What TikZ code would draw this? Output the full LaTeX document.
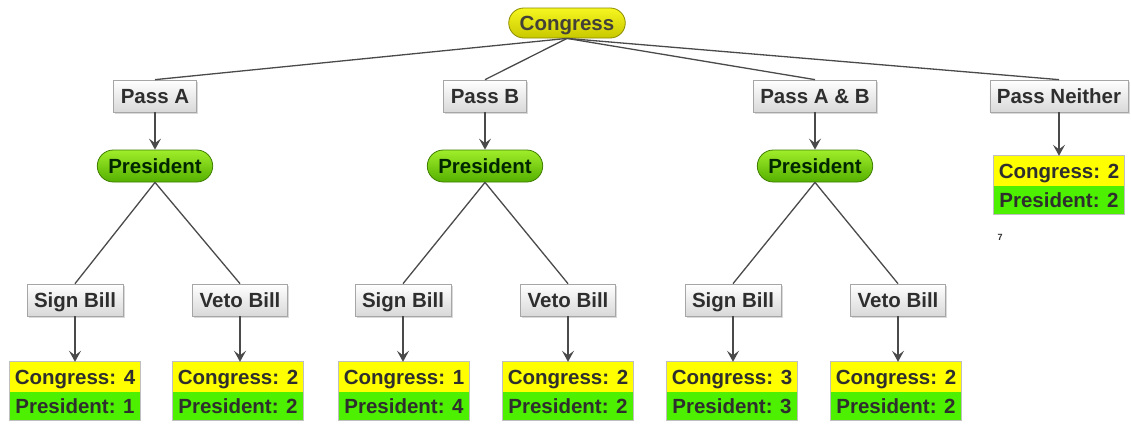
\documentclass[tikz,border=0pt]{standalone}
\usepackage{fontspec}
\setmainfont{Liberation Sans}
\usetikzlibrary{arrows.meta,shadows}
\definecolor{edgegray}{HTML}{4A4A4A}
\definecolor{txt}{HTML}{2E2E2E}
\definecolor{cyel}{HTML}{FFFF00}
\definecolor{cgrn}{HTML}{4CF000}
\definecolor{ctop}{HTML}{F6F620}
\definecolor{cbot}{HTML}{C8C800}
\definecolor{cline}{HTML}{8C8C00}
\definecolor{gtop}{HTML}{A0EE2A}
\definecolor{gbot}{HTML}{55B000}
\definecolor{gline}{HTML}{3F7F00}
\begin{document}
\begin{tikzpicture}[x=1pt,y=-1pt,
  lbl/.style={font=\fontsize{20.5}{22}\selectfont\bfseries, text=txt, text height=16pt, text depth=2pt},
  pill/.style={lbl, rounded corners=15pt, minimum height=30pt, inner xsep=11pt, inner ysep=0pt, line width=0.8pt},
  congressnode/.style={pill, top color=ctop, bottom color=cbot, draw=cline, text=black!85!yellow},
  presnode/.style={pill, minimum height=32pt, rounded corners=16pt, top color=gtop,
    bottom color=gbot, draw=gline, text=black!85!green},
  passbox/.style={lbl, draw=black!35, line width=0.7pt, top color=white, bottom color=black!15,
    minimum height=32pt, inner xsep=7pt, inner ysep=0pt,
    drop shadow={shadow xshift=1.5pt, shadow yshift=-1.5pt, fill=black!25, opacity=0.6}},
  cbox/.style={lbl, fill=cyel, minimum width=130pt, minimum height=30pt, inner sep=0pt},
  pbox/.style={lbl, fill=cgrn, minimum width=130pt, minimum height=28pt, inner sep=0pt},
  rframe/.style={draw=black!25, line width=0.8pt},
  link/.style={draw=edgegray, line width=1.3pt},
  arr/.style={link, -{Stealth[length=11pt, width=12pt, inset=4.5pt]}}
]
\useasboundingbox (0,0) rectangle (1131,423);

% root
\node[congressnode] (congress) at (567,23) {Congress};

% first-level choices
\node[passbox] (passA)  at (155,96)  {Pass A};
\node[passbox] (passB)  at (485,96)  {Pass B};
\node[passbox] (passAB) at (815,96)  {Pass A \& B};
\node[passbox] (passN)  at (1059,96) {Pass Neither};

% president decisions
\node[presnode] (pres1) at (155,166) {President};
\node[presnode] (pres2) at (485,166) {President};
\node[presnode] (pres3) at (815,166) {President};

% president actions
\node[passbox] (sign1) at (75,300)  {Sign Bill};
\node[passbox] (veto1) at (240,300) {Veto Bill};
\node[passbox] (sign2) at (403,300) {Sign Bill};
\node[passbox] (veto2) at (568,300) {Veto Bill};
\node[passbox] (sign3) at (733,300) {Sign Bill};
\node[passbox] (veto3) at (898,300) {Veto Bill};

% payoffs
\foreach \n/\x/\c/\p in {r1/75/4/1, r2/238/2/2, r3/404/1/4, r4/568/2/2, r5/732/3/3, r6/896/2/2}{
  \node[cbox] (c\n) at (\x,377) {Congress: \c};
  \node[pbox] (p\n) at (\x,406) {President: \p};
  \draw[rframe] (c\n.north west) rectangle (p\n.south east);
}
\node[cbox] (crN) at (1059,171) {Congress: 2};
\node[pbox] (prN) at (1059,200) {President: 2};
\draw[rframe] (crN.north west) rectangle (prN.south east);

\node[font=\fontsize{9}{10}\selectfont\bfseries, text=txt] (seven) at (1000,237) {7};

% connectors
\foreach \t in {passA,passB,passAB,passN}
  \draw[link] (congress.south) -- (\t.north);
\draw[arr] (passA.south)  -- (passA.south |- pres1.north);
\draw[arr] (passB.south)  -- (passB.south |- pres2.north);
\draw[arr] (passAB.south) -- (passAB.south |- pres3.north);
\draw[arr] (passN.south)  -- (passN.south |- crN.north);
\draw[link] (pres1.south) -- (sign1.north);
\draw[link] (pres1.south) -- (veto1.north);
\draw[link] (pres2.south) -- (sign2.north);
\draw[link] (pres2.south) -- (veto2.north);
\draw[link] (pres3.south) -- (sign3.north);
\draw[link] (pres3.south) -- (veto3.north);
\draw[arr] (sign1.south) -- (sign1.south |- cr1.north);
\draw[arr] (veto1.south) -- (veto1.south |- cr2.north);
\draw[arr] (sign2.south) -- (sign2.south |- cr3.north);
\draw[arr] (veto2.south) -- (veto2.south |- cr4.north);
\draw[arr] (sign3.south) -- (sign3.south |- cr5.north);
\draw[arr] (veto3.south) -- (veto3.south |- cr6.north);
\end{tikzpicture}
\end{document}
